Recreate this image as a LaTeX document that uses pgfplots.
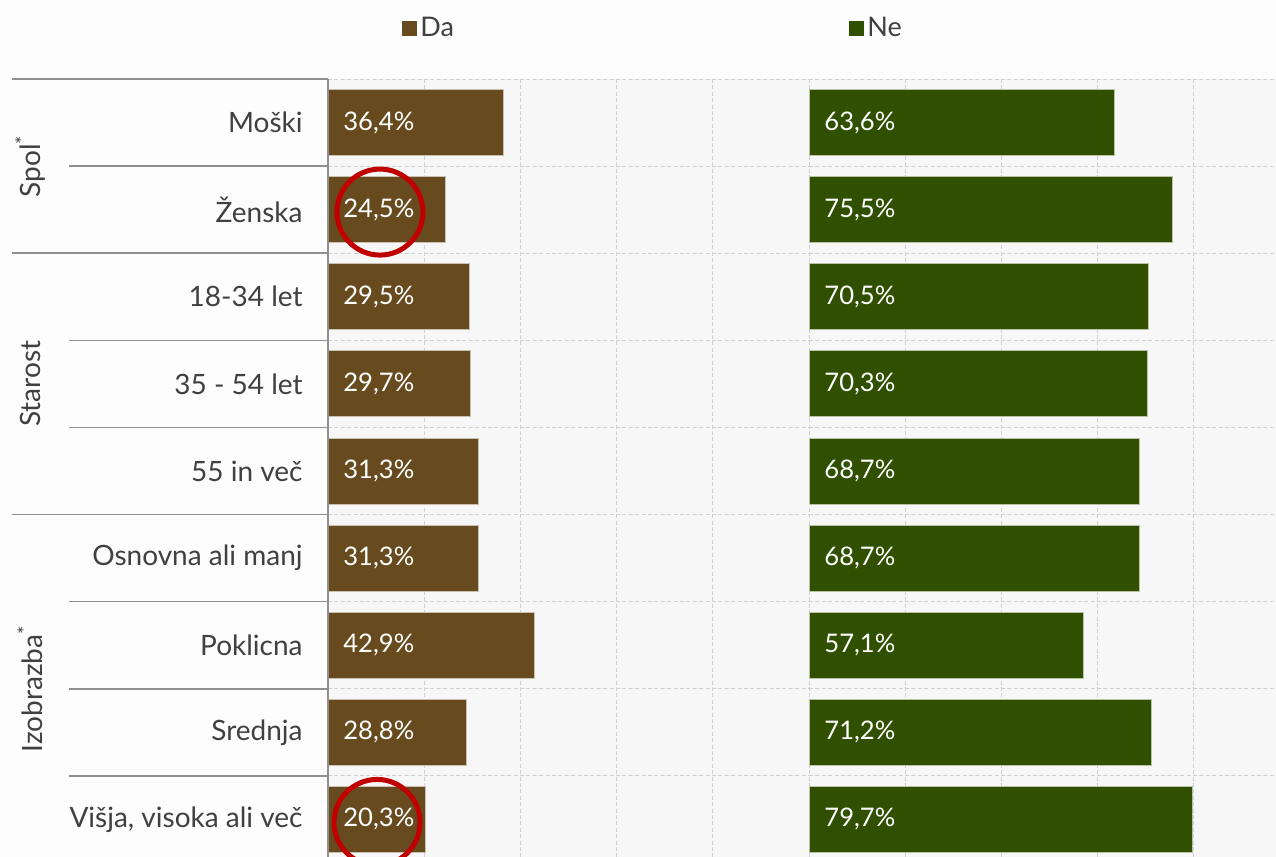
\documentclass[border=0pt]{standalone}
\usepackage{fontspec}
\setmainfont{Lato}
\usepackage{pgfplots}
\pgfplotsset{compat=1.18}
\usepackage{pgfplotstable}
\definecolor{brownc}{HTML}{674B1F}
\definecolor{greenc}{HTML}{305000}
\definecolor{txt}{HTML}{404040}
\definecolor{gridc}{HTML}{D0D0D0}
\definecolor{sepc}{HTML}{8F8F8F}
\definecolor{plotbg}{HTML}{F7F7F7}
\definecolor{pagebg}{HTML}{FDFDFD}
\definecolor{circ}{HTML}{C00000}

\pgfplotstableread{
y da ne
0 36.4 63.6
1 24.5 75.5
2 29.5 70.5
3 29.7 70.3
4 31.3 68.7
5 31.3 68.7
6 42.9 57.1
7 28.8 71.2
8 20.3 79.7
}\data

\newcommand{\lblfont}{\fontsize{14pt}{16pt}\selectfont}
\newcommand{\valfont}{\fontsize{12.8pt}{14pt}\selectfont}
\newcommand{\legfont}{\fontsize{13.5pt}{15pt}\selectfont}

\pgfplotsset{
  panel/.style={
    scale only axis, width=240.5pt, height=392pt,
    xmin=0, xmax=100, ymin=-0.5, ymax=8.5, y dir=reverse,
    axis line style={draw=none},
    axis background/.style={fill=plotbg},
    xtick={0,20,...,100}, xticklabels={}, xmajorgrids,
    ytick={0,...,8},
    minor ytick={-0.5,0.5,...,8.5}, yminorgrids,
    major grid style={gridc, dash pattern=on 2pt off 1.2pt, line width=0.5pt},
    minor grid style={gridc, dash pattern=on 2pt off 1.2pt, line width=0.5pt},
    major tick length=0pt, minor tick length=0pt,
    bar width=33pt,
    clip=false,
    /pgf/number format/assume math mode=true,
  },
  vals/.style={only marks, mark=none,
    nodes near coords={\pgfmathprintnumber[fixed,fixed zerofill,precision=1,use comma]{\pgfplotspointmeta}\%},
    nodes near coords style={anchor=west, text=white, font=\valfont, xshift=7.5pt, inner sep=0pt}},
}

\begin{document}
\begin{tikzpicture}
\fill[pagebg] (0,0) rectangle (638pt,-428.5pt);
\begin{scope}
\clip (0,0) rectangle (638pt,-428.5pt);
% ---------- Da panel
\begin{axis}[panel, at={(164pt,-39.5pt)}, anchor=north west,
  yticklabels={Moški, Ženska, 18-34 let, 35 - 54 let, 55 in več, Osnovna ali manj, Poklicna, Srednja, {Višja, visoka ali več}},
  yticklabel style={font=\lblfont, text=txt, inner sep=0pt, xshift=-12.5pt},
  legend style={at={(axis description cs:0.1538,1.065)}, anchor=west, draw=none, fill=none, font=\legfont, text=txt, inner sep=0pt,
    nodes={inner xsep=1.5pt}},
  legend image code/.code={\fill[brownc] (0pt,-3.5pt) rectangle (7pt,3.5pt);},
]
\addplot[xbar, fill=brownc, draw=white!65!brownc, line width=0.5pt] table[x=da, y=y] {\data};
\addlegendentry{Da}
\addplot[vals, point meta=\thisrow{da}, forget plot] table[x expr=0, y=y] {\data};
\draw[sepc, line width=0.6pt] (axis description cs:0,0) -- (axis description cs:0,1);
\pgfplotsinvokeforeach{-0.5,1.5,4.5,8.5}{\draw[sepc, line width=0.75pt] (axis cs:0,#1) -- ++(-158pt,0pt);}
\pgfplotsinvokeforeach{0.5,2.5,3.5,5.5,6.5,7.5}{\draw[sepc, line width=0.75pt] (axis cs:0,#1) -- ++(-129.5pt,0pt);}
\node[rotate=90, text=txt, font=\lblfont] at ([xshift=-149pt]axis cs:0,0.5) {Spol\textsuperscript{*}};
\node[rotate=90, text=txt, font=\lblfont] at ([xshift=-149pt]axis cs:0,3) {Starost};
\node[rotate=90, text=txt, font=\lblfont] at ([xshift=-149pt]axis cs:0,6.5) {Izobrazba\textsuperscript{*}};
\draw[circ, line width=2.5pt] ([yshift=-1.2pt]axis cs:10.8,1) circle[radius=21.5pt];
\draw[circ, line width=2.5pt] ([yshift=-1.5pt]axis cs:10.2,8) circle[radius=21.5pt];
\end{axis}
% ---------- Ne panel
\begin{axis}[panel, at={(404.5pt,-39.5pt)}, anchor=north west,
  yticklabels={},
  legend style={at={(axis description cs:0.0832,1.065)}, anchor=west, draw=none, fill=none, font=\legfont, text=txt, inner sep=0pt,
    nodes={inner xsep=1.5pt}},
  legend image code/.code={\fill[greenc] (0pt,-3.5pt) rectangle (7pt,3.5pt);},
]
\addplot[xbar, fill=greenc, draw=white!65!greenc, line width=0.5pt] table[x=ne, y=y] {\data};
\addlegendentry{Ne}
\addplot[vals, point meta=\thisrow{ne}, forget plot] table[x expr=0, y=y] {\data};
\end{axis}
\end{scope}
\pgfresetboundingbox
\useasboundingbox (0,0) rectangle (638pt,-428.5pt);
\end{tikzpicture}
\end{document}
